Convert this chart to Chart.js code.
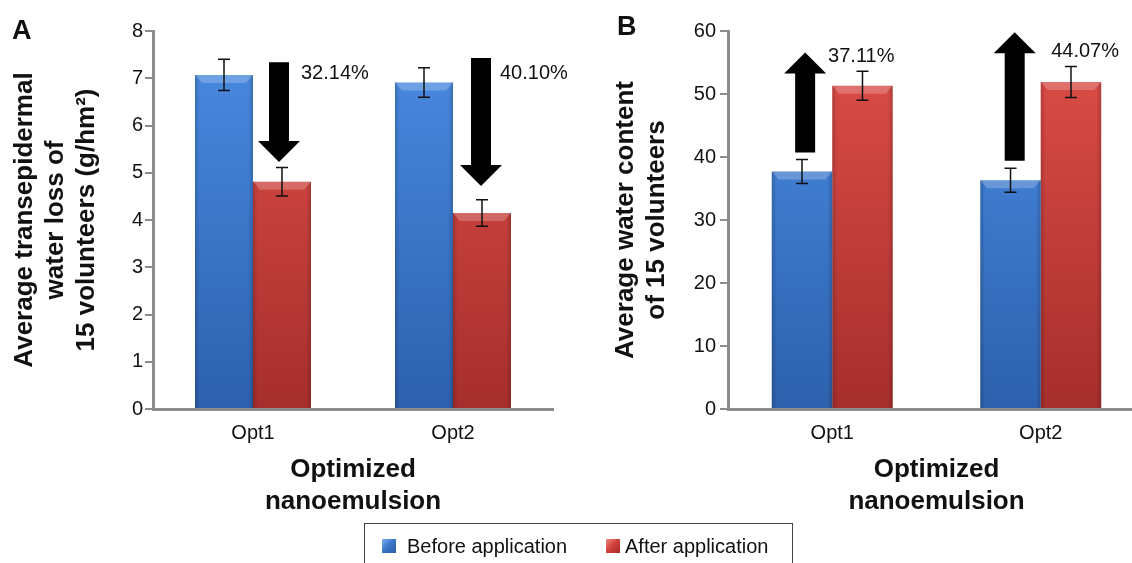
<!DOCTYPE html>
<html>
<head>
<meta charset="utf-8">
<script src="https://cdn.jsdelivr.net/npm/chart.js@4.4.1/dist/chart.umd.min.js"></script>
<style>
  body { margin: 0; width: 1132px; height: 563px; overflow: hidden; position: relative; background: #fff;
         font-family: "Liberation Sans", Arial, sans-serif; color: #111; }
  .panel { position: absolute; top: 0; height: 563px; }
  #panelA { left: 0; width: 575px; }
  #panelB { left: 590px; width: 560px; }
  .letter { position: absolute; font-weight: bold; font-size: 27px; line-height: 27px; }
  #legend { position: absolute; left: 364px; top: 523px; width: 429px; height: 50px; border: 1px solid #444; box-sizing: border-box; }
  #legend .sw { position: absolute; top: 15px; width: 14px; height: 14px; }
  #legend .txt { position: absolute; top: 10px; font-size: 20px; line-height: 24px; white-space: nowrap; }
</style>
</head>
<body>
<div class="panel" id="panelA"><canvas id="chartA"></canvas></div>
<div class="panel" id="panelB"><canvas id="chartB"></canvas></div>
<div class="letter" style="left:12px; top:17px;">A</div>
<div class="letter" style="left:617px; top:13px;">B</div>
<div id="legend">
  <span class="sw" style="left:17px; background:linear-gradient(135deg,#7fb0ee,#3a78cc 45%,#2a5ba6);"></span>
  <span class="txt" style="left:42px;">Before application</span>
  <span class="sw" style="left:241px; background:linear-gradient(135deg,#f08a86,#d3423d 45%,#a52b2a);"></span>
  <span class="txt" style="left:260px;">After application</span>
</div>
<script>
// data
const categories = ["Opt1", "Opt2"];
const seriesNames = ["Before application", "After application"];

// panel A: transepidermal water loss (g/hm2)
const tewlBefore = [7.07, 6.91];
const tewlAfter = [4.81, 4.15];
const tewlBeforeErr = [0.33, 0.31];
const tewlAfterErr = [0.30, 0.28];
const tewlTicks = [0, 1, 2, 3, 4, 5, 6, 7, 8];
const tewlChange = ["32.14%", "40.10%"];

// panel B: water content
const waterBefore = [37.7, 36.3];
const waterAfter = [51.3, 51.9];
const waterBeforeErr = [1.9, 1.9];
const waterAfterErr = [2.3, 2.45];
const waterTicks = [0, 10, 20, 30, 40, 50, 60];
const waterChange = ["37.11%", "44.07%"];

// arrow annotations (value units, x as fraction of a category)
const arrowsA = [
  { from: 7.34, to: 5.23, dx: 0.13, labelDx: 0.24, labelY: 7.11 },
  { from: 7.43, to: 4.72, dx: 0.14, labelDx: 0.235, labelY: 7.11 },
];
const arrowsB = [
  { from: 40.7, to: 56.6, dx: -0.13, labelDx: -0.02, labelY: 55.9 },
  { from: 39.4, to: 59.8, dx: -0.125, labelDx: 0.05, labelY: 56.7 },
];

const FONT = "'Liberation Sans', Arial, sans-serif";
const AXIS_GREY = "#8c8c8c";

function barFill(top, bottom) {
  return (ctx) => {
    const area = ctx.chart.chartArea;
    if (!area) return top;
    const g = ctx.chart.ctx.createLinearGradient(0, area.top, 0, area.bottom);
    g.addColorStop(0, top);
    g.addColorStop(1, bottom);
    return g;
  };
}

// bevelled look: light top cap and darker side edges
const barBevel = {
  id: "barBevel",
  afterDatasetsDraw(chart) {
    const c = chart.ctx;
    c.save();
    chart.data.datasets.forEach((ds, di) => {
      chart.getDatasetMeta(di).data.forEach((bar) => {
        const l = bar.x - bar.width / 2, r = bar.x + bar.width / 2, t = bar.y, b = bar.base;
        const side = c.createLinearGradient(l, 0, r, 0);
        side.addColorStop(0, "rgba(0,0,0,0.18)");
        side.addColorStop(0.08, "rgba(0,0,0,0)");
        side.addColorStop(0.92, "rgba(0,0,0,0)");
        side.addColorStop(1, "rgba(0,0,0,0.18)");
        c.fillStyle = side;
        c.fillRect(l, t, r - l, b - t);
        c.fillStyle = "rgba(255,255,255,0.22)";
        c.beginPath();
        c.moveTo(l, t); c.lineTo(r, t); c.lineTo(r - 7, t + 8); c.lineTo(l + 7, t + 8);
        c.closePath();
        c.fill();
      });
    });
    c.restore();
  },
};

// error bars with caps, drawn on top of the bars
const errorBars = {
  id: "errorBars",
  afterDatasetsDraw(chart) {
    const c = chart.ctx;
    const y = chart.scales.y;
    c.save();
    c.strokeStyle = "#111";
    c.lineWidth = 1.5;
    chart.data.datasets.forEach((ds, di) => {
      chart.getDatasetMeta(di).data.forEach((bar, i) => {
        const v = ds.data[i], e = ds.errors[i];
        const yt = y.getPixelForValue(v + e), yb = y.getPixelForValue(v - e);
        c.beginPath();
        c.moveTo(bar.x, yt); c.lineTo(bar.x, yb);
        c.moveTo(bar.x - 6, yt); c.lineTo(bar.x + 6, yt);
        c.moveTo(bar.x - 6, yb); c.lineTo(bar.x + 6, yb);
        c.stroke();
      });
    });
    c.restore();
  },
};

// big black arrows with the percentage change
const changeArrows = {
  id: "changeArrows",
  afterDatasetsDraw(chart, args, opts) {
    const c = chart.ctx;
    const xs = chart.scales.x, ys = chart.scales.y;
    const catW = (xs.right - xs.left) / chart.data.labels.length;
    c.save();
    opts.arrows.forEach((a, i) => {
      const cx = xs.getPixelForValue(i) + a.dx * catW;
      const y1 = ys.getPixelForValue(a.from), y2 = ys.getPixelForValue(a.to);
      const dir = Math.sign(y2 - y1);
      const base = y2 - dir * 21;
      c.fillStyle = "#000";
      c.beginPath();
      c.moveTo(cx - 10, y1); c.lineTo(cx + 10, y1);
      c.lineTo(cx + 10, base); c.lineTo(cx + 21, base);
      c.lineTo(cx, y2); c.lineTo(cx - 21, base);
      c.lineTo(cx - 10, base); c.closePath();
      c.fill();
      c.font = "20px " + FONT;
      c.textAlign = "left";
      c.textBaseline = "middle";
      c.fillStyle = "#111";
      c.fillText(opts.labels[i], xs.getPixelForValue(i) + a.labelDx * catW, ys.getPixelForValue(a.labelY));
    });
    c.restore();
  },
};

function makeChart(id, cfg) {
  return new Chart(document.getElementById(id), {
    type: "bar",
    data: {
      labels: categories,
      datasets: [
        { label: seriesNames[0], data: cfg.before, errors: cfg.beforeErr,
          backgroundColor: barFill("#4a8ce4", "#2d61ad"), categoryPercentage: 0.58, barPercentage: 1.0 },
        { label: seriesNames[1], data: cfg.after, errors: cfg.afterErr,
          backgroundColor: barFill("#e04f49", "#a62e2c"), categoryPercentage: 0.58, barPercentage: 1.0 },
      ],
    },
    options: {
      responsive: true,
      maintainAspectRatio: false,
      animation: false,
      layout: { padding: { left: 0, top: 31, right: cfg.padRight, bottom: 0 } },
      plugins: {
        legend: { display: false },
        tooltip: { enabled: false },
        changeArrows: { arrows: cfg.arrows, labels: cfg.changes },
      },
      scales: {
        x: {
          grid: { display: false, drawTicks: false },
          border: { display: true, color: AXIS_GREY, width: 3 },
          ticks: { color: "#111", padding: 12, font: { size: 20, family: FONT } },
          title: { display: true, text: ["Optimized", "nanoemulsion"], color: "#111",
                   font: { size: 26, weight: "bold", family: FONT }, padding: { top: 0, bottom: 46 } },
          afterFit: (s) => { s.height = 154; },
        },
        y: {
          min: cfg.ticks[0],
          max: cfg.ticks[cfg.ticks.length - 1],
          afterBuildTicks: (s) => { s.ticks = cfg.ticks.map((v) => ({ value: v })); },
          grid: { drawOnChartArea: false, drawTicks: true, tickLength: 8, color: AXIS_GREY, lineWidth: 2 },
          border: { display: true, color: AXIS_GREY, width: 3 },
          ticks: { color: "#111", padding: cfg.tickPad, font: { size: 20, family: FONT } },
          title: { display: true, text: cfg.yTitle, color: "#111",
                   font: { size: 26, weight: "bold", family: FONT }, padding: { top: cfg.titlePad, bottom: 0 } },
          afterFit: (s) => { s.width = cfg.yWidth; },
        },
      },
    },
    plugins: [barBevel, errorBars, changeArrows],
  });
}

makeChart("chartA", {
  before: tewlBefore, after: tewlAfter, beforeErr: tewlBeforeErr, afterErr: tewlAfterErr,
  ticks: tewlTicks, changes: tewlChange, arrows: arrowsA,
  yTitle: ["Average transepidermal", "water loss of", "15 volunteers (g/hm\u00B2)"],
  yWidth: 153, titlePad: 9, padRight: 22, tickPad: 2,
});

makeChart("chartB", {
  before: waterBefore, after: waterAfter, beforeErr: waterBeforeErr, afterErr: waterAfterErr,
  ticks: waterTicks, changes: waterChange, arrows: arrowsB,
  yTitle: ["Average water content", "of 15 volunteers"],
  yWidth: 138, titlePad: 20, padRight: 5, tickPad: 4,
});
</script>
</body>
</html>
